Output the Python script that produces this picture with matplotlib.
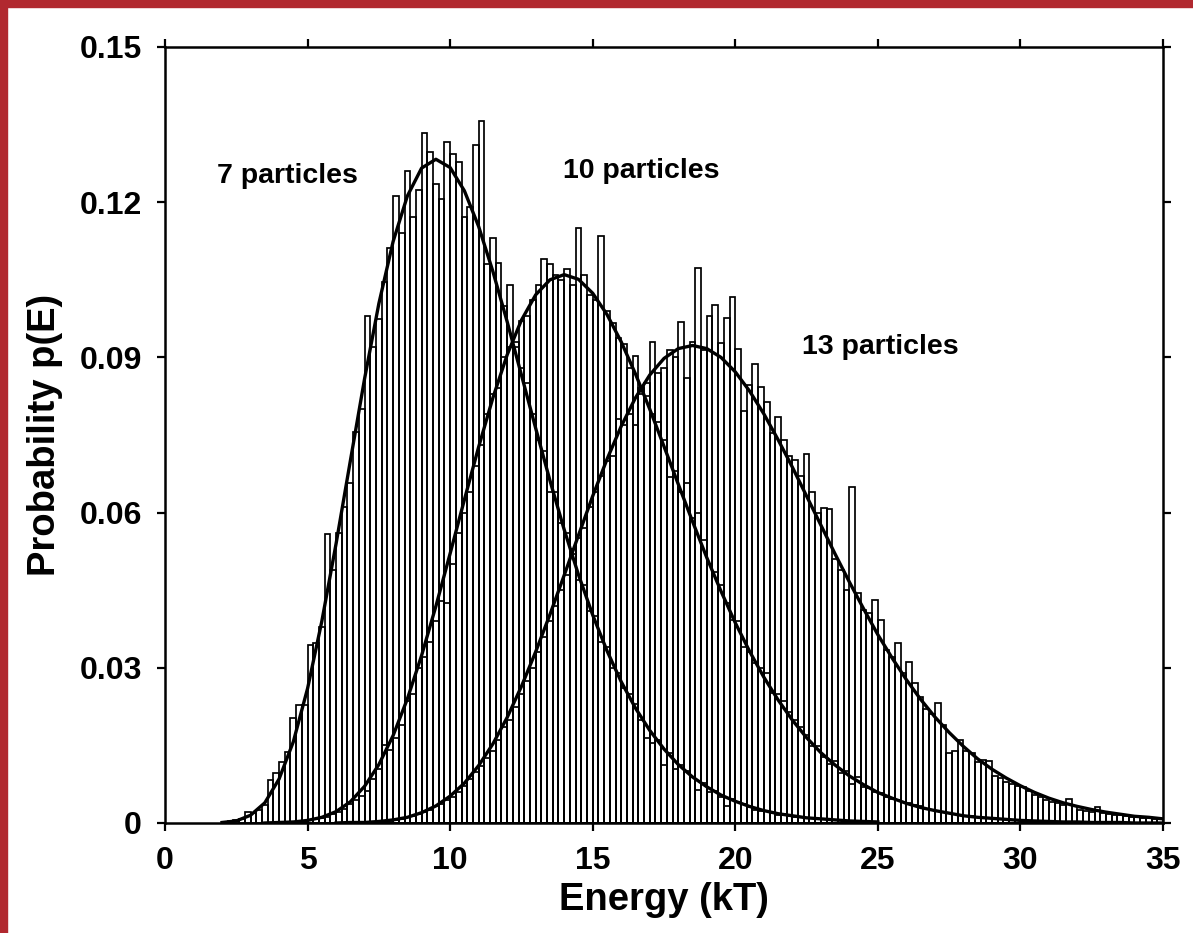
import numpy as np
import matplotlib
matplotlib.use("Agg")
import matplotlib.pyplot as plt
from matplotlib.patches import Rectangle

plt.rcParams['font.family'] = ['Liberation Sans', 'DejaVu Sans']
plt.rcParams['font.weight'] = 'bold'

# ---------------- data ----------------
bin_width = 0.2

# histogram, 7 particles (bins start at 2.2 kT)
p7_start = 2.2
p7_hist = [0.0003, 0.0005, 0.0008, 0.0021, 0.0020, 0.0025, 0.0035, 0.0083, 0.0097, 0.0118,
           0.0137, 0.0203, 0.0228, 0.0228, 0.0344, 0.0348, 0.0379, 0.0559, 0.0490, 0.0560,
           0.0611, 0.0657, 0.0756, 0.0800, 0.0980, 0.0920, 0.0975, 0.1046, 0.1111, 0.1212,
           0.1140, 0.1260, 0.1172, 0.1224, 0.1334, 0.1298, 0.1235, 0.1206, 0.1316, 0.1293,
           0.1278, 0.1172, 0.1190, 0.1311, 0.1356, 0.1080, 0.1131, 0.1083, 0.1000, 0.1040,
           0.0930, 0.0880, 0.0850, 0.0790, 0.0740, 0.0720, 0.0640, 0.0640, 0.0580, 0.0560,
           0.0530, 0.0470, 0.0460, 0.0410, 0.0400, 0.0350, 0.0340, 0.0300, 0.0290, 0.0260,
           0.0250, 0.0230, 0.0200, 0.0164, 0.0154, 0.0160, 0.0112, 0.0135, 0.0105, 0.0112,
           0.0100, 0.0088, 0.0064, 0.0078, 0.0060, 0.0062, 0.0050, 0.0032, 0.0047, 0.0040,
           0.0036, 0.0030, 0.0025, 0.0024, 0.0023, 0.0020, 0.0016, 0.0018, 0.0013, 0.0012,
           0.0012, 0.0009, 0.0010, 0.0007, 0.0008, 0.0006, 0.0005, 0.0005, 0.0003, 0.0004,
           0.0002, 0.0003, 0.0002, 0.0001]

# histogram, 10 particles (bins start at 4.4 kT)
p10_start = 4.4
p10_hist = [0.0002, 0.0003, 0.0004, 0.0005, 0.0008, 0.0010, 0.0012, 0.0018, 0.0022, 0.0028,
            0.0036, 0.0045, 0.0052, 0.0062, 0.0085, 0.0105, 0.0151, 0.0142, 0.0165, 0.0190,
            0.0235, 0.0250, 0.0300, 0.0320, 0.0350, 0.0390, 0.0430, 0.0425, 0.0500, 0.0560,
            0.0600, 0.0640, 0.0690, 0.0730, 0.0790, 0.0830, 0.0840, 0.0900, 0.0920, 0.0920,
            0.0970, 0.0980, 0.1010, 0.1040, 0.1090, 0.1080, 0.1060, 0.1050, 0.1070, 0.1040,
            0.1150, 0.1060, 0.1020, 0.1010, 0.1135, 0.0990, 0.0967, 0.0937, 0.0925, 0.0880,
            0.0903, 0.0840, 0.0826, 0.0790, 0.0776, 0.0740, 0.0669, 0.0680, 0.0640, 0.0657,
            0.0590, 0.0600, 0.0547, 0.0500, 0.0486, 0.0460, 0.0425, 0.0392, 0.0390, 0.0341,
            0.0330, 0.0310, 0.0300, 0.0290, 0.0251, 0.0250, 0.0235, 0.0215, 0.0200, 0.0186,
            0.0170, 0.0148, 0.0148, 0.0128, 0.0115, 0.0120, 0.0096, 0.0100, 0.0076, 0.0089,
            0.0070, 0.0068, 0.0060, 0.0058, 0.0050, 0.0047, 0.0045, 0.0040, 0.0038, 0.0034,
            0.0032, 0.0028, 0.0026, 0.0024, 0.0022, 0.0019, 0.0018, 0.0016, 0.0014, 0.0013,
            0.0011, 0.0010, 0.0009, 0.0009, 0.0008, 0.0007, 0.0006, 0.0005, 0.0005, 0.0004,
            0.0004, 0.0003, 0.0003, 0.0003, 0.0002, 0.0002, 0.0002, 0.0001, 0.0001, 0.0001]

# histogram, 13 particles (bins start at 7.6 kT)
p13_start = 7.6
p13_hist = [0.0003, 0.0004, 0.0006, 0.0008, 0.0011, 0.0013, 0.0018, 0.0021, 0.0026, 0.0032,
            0.0036, 0.0045, 0.0050, 0.0060, 0.0072, 0.0085, 0.0098, 0.0110, 0.0125, 0.0140,
            0.0160, 0.0185, 0.0200, 0.0225, 0.0250, 0.0275, 0.0300, 0.0330, 0.0360, 0.0390,
            0.0420, 0.0450, 0.0480, 0.0520, 0.0550, 0.0570, 0.0610, 0.0640, 0.0670, 0.0700,
            0.0710, 0.0780, 0.0770, 0.0790, 0.0770, 0.0830, 0.0850, 0.0929, 0.0870, 0.0880,
            0.0914, 0.0900, 0.0969, 0.0860, 0.0930, 0.1072, 0.0914, 0.0980, 0.1001, 0.0927,
            0.0977, 0.1017, 0.0916, 0.0796, 0.0847, 0.0887, 0.0843, 0.0814, 0.0753, 0.0785,
            0.0740, 0.0710, 0.0702, 0.0670, 0.0713, 0.0640, 0.0600, 0.0608, 0.0607, 0.0510,
            0.0490, 0.0450, 0.0649, 0.0445, 0.0412, 0.0405, 0.0432, 0.0392, 0.0334, 0.0320,
            0.0347, 0.0290, 0.0312, 0.0270, 0.0244, 0.0220, 0.0210, 0.0231, 0.0190, 0.0135,
            0.0140, 0.0160, 0.0140, 0.0135, 0.0118, 0.0122, 0.0120, 0.0091, 0.0087, 0.0080,
            0.0075, 0.0072, 0.0069, 0.0061, 0.0054, 0.0051, 0.0045, 0.0040, 0.0038, 0.0035,
            0.0046, 0.0032, 0.0025, 0.0024, 0.0022, 0.0030, 0.0020, 0.0018, 0.0016, 0.0015,
            0.0013, 0.0012, 0.0011, 0.0010, 0.0009, 0.0008, 0.0007]

# fitted curves, sampled every 0.5 kT
curve_step = 0.5
c7_start = 2.0
c7_vals = [0.0001, 0.0004, 0.0015, 0.0039, 0.0085, 0.0157, 0.0260, 0.0390, 0.0540, 0.0700,
           0.0859, 0.1004, 0.1124, 0.1212, 0.1266, 0.1283, 0.1267, 0.1222, 0.1153, 0.1066,
           0.0969, 0.0866, 0.0763, 0.0662, 0.0567, 0.0480, 0.0402, 0.0333, 0.0273, 0.0222,
           0.0179, 0.0143, 0.0113, 0.0089, 0.0070, 0.0054, 0.0042, 0.0032, 0.0024, 0.0018,
           0.0014, 0.0010, 0.0008, 0.0006, 0.0004, 0.0003, 0.0002]
c10_start = 3.5
c10_vals = [0.0000, 0.0001, 0.0002, 0.0005, 0.0011, 0.0022, 0.0041, 0.0071, 0.0113, 0.0169,
            0.0240, 0.0324, 0.0419, 0.0521, 0.0625, 0.0727, 0.0822, 0.0905, 0.0972, 0.1021,
            0.1050, 0.1060, 0.1051, 0.1024, 0.0983, 0.0930, 0.0868, 0.0800, 0.0728, 0.0655,
            0.0583, 0.0513, 0.0448, 0.0387, 0.0332, 0.0282, 0.0238, 0.0199, 0.0165, 0.0136,
            0.0112, 0.0091, 0.0074, 0.0059, 0.0048, 0.0038, 0.0030, 0.0024, 0.0019, 0.0014,
            0.0011, 0.0009, 0.0007, 0.0005, 0.0004, 0.0003, 0.0002, 0.0002, 0.0001, 0.0001,
            0.0001, 0.0000, 0.0000, 0.0000]
c13_start = 6.0
c13_vals = [0.0000, 0.0001, 0.0001, 0.0003, 0.0006, 0.0011, 0.0020, 0.0033, 0.0052, 0.0077,
            0.0111, 0.0153, 0.0204, 0.0264, 0.0331, 0.0403, 0.0479, 0.0556, 0.0632, 0.0703,
            0.0767, 0.0822, 0.0866, 0.0898, 0.0917, 0.0923, 0.0917, 0.0900, 0.0872, 0.0835,
            0.0791, 0.0741, 0.0688, 0.0632, 0.0576, 0.0520, 0.0466, 0.0414, 0.0364, 0.0319,
            0.0277, 0.0239, 0.0205, 0.0175, 0.0148, 0.0124, 0.0104, 0.0087, 0.0072, 0.0059,
            0.0048, 0.0039, 0.0032, 0.0026, 0.0021, 0.0017, 0.0013, 0.0011, 0.0008]

labels = ["7 particles", "10 particles", "13 particles"]
label_pos = [(4.31, 0.1251), (16.69, 0.1260), (25.08, 0.0920)]

x_ticks = [0, 5, 10, 15, 20, 25, 30, 35]
y_ticks = [0, 0.03, 0.06, 0.09, 0.12, 0.15]
y_ticklabels = ["0", "0.03", "0.06", "0.09", "0.12", "0.15"]

# ---------------- figure ----------------
W, H = 1193, 933
fig = plt.figure(figsize=(W / 100, H / 100), dpi=100)
fig.patch.set_facecolor('white')
red = '#B1282F'
fig.patches.append(Rectangle((0, 0), 7 / W, 1, transform=fig.transFigure, color=red, zorder=0))
fig.patches.append(Rectangle((0, 1 - 7 / H), 1, 7 / H, transform=fig.transFigure, color=red, zorder=0))

ax = fig.add_axes([165 / W, 1 - 823 / H, (1163 - 165) / W, (823 - 47) / H])

for start, vals in [(p7_start, p7_hist), (p10_start, p10_hist), (p13_start, p13_hist)]:
    vals = np.asarray(vals)
    edges = start + bin_width * np.arange(len(vals))
    ax.bar(edges, vals, width=bin_width, align='edge', facecolor='none',
           edgecolor='black', linewidth=1.25, zorder=2)

for start, vals in [(c7_start, c7_vals), (c10_start, c10_vals), (c13_start, c13_vals)]:
    vals = np.asarray(vals)
    e = start + curve_step * np.arange(len(vals))
    ax.plot(e, vals, color='black', linewidth=2.4, zorder=3, solid_joinstyle='round')

for txt, (x, y) in zip(labels, label_pos):
    ax.text(x, y, txt, ha='center', va='center', fontsize=20.5, fontweight='bold')

ax.set_xlim(0, 35)
ax.set_ylim(0, 0.15)
ax.set_xticks(x_ticks)
ax.set_yticks(y_ticks)
ax.set_yticklabels(y_ticklabels)
ax.tick_params(axis='both', which='major', direction='out', length=5.8, width=1.6,
               labelsize=23, top=True, right=True, pad=11)
for lab in ax.get_xticklabels() + ax.get_yticklabels():
    lab.set_fontweight('bold')
for sp in ax.spines.values():
    sp.set_linewidth(1.8)

ax.set_xlabel("Energy (kT)", fontsize=27.5, fontweight='bold', labelpad=4)
ax.set_ylabel("Probability p(E)", fontsize=27.5, fontweight='bold', labelpad=12)

fig.savefig("out.png", dpi=100)
